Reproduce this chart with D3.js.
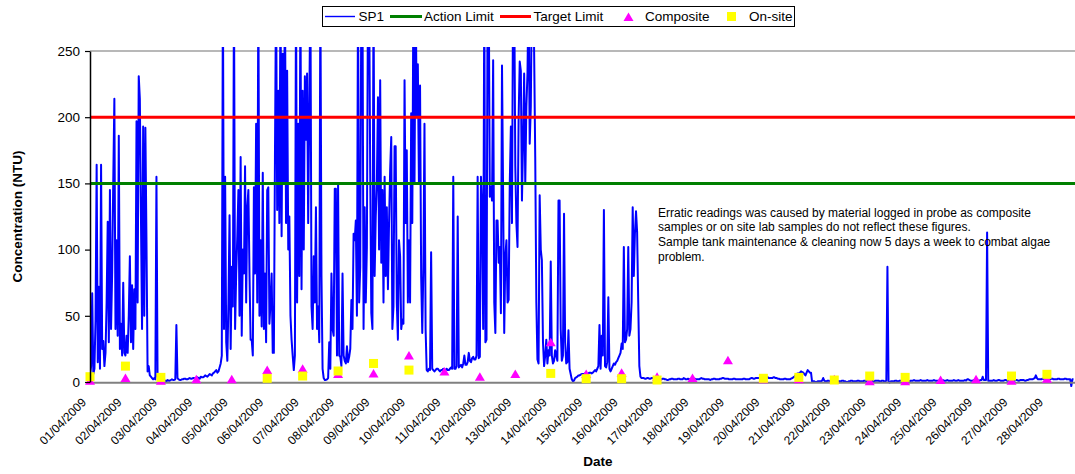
<!DOCTYPE html>
<html>
<head>
<meta charset="utf-8">
<script src="https://cdn.jsdelivr.net/npm/d3@7"></script>
<style>
  body { margin: 0; background: #fff; }
  svg { display: block; font-family: Arial, "Liberation Sans", sans-serif; }
</style>
</head>
<body>
<svg id="chart" width="1075" height="474"></svg>
<script>
// values
var dayLabels = ["01/04/2009", "02/04/2009", "03/04/2009", "04/04/2009", "05/04/2009", "06/04/2009", "07/04/2009",
  "08/04/2009", "09/04/2009", "10/04/2009", "11/04/2009", "12/04/2009", "13/04/2009", "14/04/2009",
  "15/04/2009", "16/04/2009", "17/04/2009", "18/04/2009", "19/04/2009", "20/04/2009", "21/04/2009",
  "22/04/2009", "23/04/2009", "24/04/2009", "25/04/2009", "26/04/2009", "27/04/2009", "28/04/2009"];
var dayIndex = [0, 1, 2, 3, 4, 5, 6, 7, 8, 9, 10, 11, 12, 13, 14, 15, 16, 17, 18, 19, 20, 21, 22, 23, 24, 25, 26, 27];
var yTicks = [0, 50, 100, 150, 200, 250];

// SP1 probe, one reading every 45 minutes (32 per day), one row per day
var sp1StepDays = 1 / 32;
var sp1 = [
  5, 12, 67, 6, 10, 47, 164, 15, 72, 10, 164, 25, 31, 12, 22, 60, 121, 30, 145, 40, 82, 152, 214, 40, 107, 35, 186, 25, 44, 20, 75, 22,
  20, 35, 22, 50, 95, 30, 73, 25, 70, 40, 197, 60, 231, 214, 125, 40, 193, 50, 192, 105, 8, 12, 5, 4, 3, 2, 3, 2, 155, 4, 2, 1.5,
  1, 1.5, 0.5, 1, 1, 0.5, 1.5, 1, 1, 1.5, 2, 1.5, 1.5, 2, 43, 3, 2, 1.5, 1.5, 2, 2, 2.5, 2.5, 2, 2, 2.5, 3, 2.5, 2.5, 3, 3, 2.5,
  3, 3.5, 3, 2.5, 4, 3.5, 3.5, 4, 5, 4.5, 4, 5, 6, 5.5, 5, 6.5, 7, 8, 9, 7, 8, 11, 14, 20, 300, 40, 155, 30, 16, 60, 126, 25,
  87, 57, 300, 40, 82, 110, 145, 50, 170, 35, 100, 82, 163, 60, 132, 145, 82, 32, 32, 20, 147, 82, 195, 60, 300, 50, 107, 42, 158, 40, 82, 30,
  145, 147, 44, 60, 82, 22, 22, 170, 300, 130, 220, 120, 300, 110, 248, 150, 300, 120, 235, 100, 125, 50, 32, 20, 9, 20, 300, 60, 195, 80, 300, 70,
  220, 100, 231, 183, 233, 120, 208, 300, 57, 40, 95, 60, 132, 40, 57, 30, 300, 80, 10, 3, 1.5, 1.5, 2, 3, 30, 10, 82, 40, 35, 146, 146, 20,
  150, 20, 19, 12, 82, 20, 16, 14, 27, 15, 19, 25, 62, 40, 112, 107, 122, 50, 300, 60, 87, 300, 300, 40, 132, 60, 102, 300, 300, 158, 52, 40,
  300, 80, 125, 150, 215, 100, 228, 90, 145, 60, 155, 80, 132, 70, 120, 160, 185, 40, 57, 178, 178, 60, 32, 107, 95, 40, 47, 44, 228, 120, 175, 60,
  107, 60, 203, 120, 300, 150, 300, 200, 240, 150, 224, 80, 37, 87, 195, 40, 9, 8, 10, 9, 98, 10, 9, 8, 9, 10, 10, 9, 8, 9, 9, 10,
  8, 9, 10, 9, 9, 10, 11, 10, 155, 10, 10, 12, 125, 11, 12, 13, 11, 14, 20, 13, 13, 15, 22, 16, 15, 18, 19, 17, 17, 20, 155, 18,
  19, 155, 132, 40, 300, 30, 32, 300, 300, 140, 147, 137, 243, 60, 37, 122, 122, 90, 102, 52, 239, 142, 37, 95, 107, 60, 62, 150, 193, 120, 300, 300,
  163, 120, 102, 200, 242, 235, 137, 180, 233, 150, 208, 233, 300, 180, 208, 300, 300, 250, 170, 60, 17, 14, 141, 100, 92, 30, 12, 20, 32, 14, 24, 20,
  91, 20, 14, 16, 24, 20, 16, 137, 137, 40, 16, 20, 127, 30, 14, 15, 39, 10, 6, 2, 0.5, 1, 3, 3.5, 4, 5, 5, 5.5, 6, 6, 6, 6.5,
  6, 6, 6.5, 7, 7, 6.5, 7, 8, 9, 8, 10, 12, 43, 10, 35, 20, 130, 12, 11, 15, 64, 10, 8, 10, 12, 14, 13, 15, 16, 18, 20, 22,
  29, 25, 102, 30, 32, 40, 102, 35, 40, 60, 132, 80, 112, 129, 113, 60, 12, 4, 3, 3, 3, 2.5, 2.5, 3, 3, 2.5, 2.5, 3, 3, 3, 3, 3,
  3, 2.5, 2.5, 2, 2, 2.5, 2.5, 2, 2, 1.5, 1.5, 2, 2, 2.5, 2.5, 2, 2, 2, 2, 2.5, 2.5, 2, 2, 2, 3, 2.5, 2, 2, 2.5, 2, 2, 2,
  2, 2, 2.5, 2, 2, 2, 2, 2.5, 3, 2.5, 2.5, 2, 2, 2, 2, 2, 1.5, 2, 2, 2.5, 2.5, 2, 2, 2, 2, 2.5, 2.5, 3, 3, 2.5, 2.5, 2.5,
  2.5, 2, 2, 2, 2, 2.5, 2.5, 2, 2, 2, 2, 2, 2, 2, 2.5, 2.5, 2, 2, 2, 2, 2.5, 3, 3, 2.5, 2.5, 3, 3, 3, 3, 3.5, 3.5, 3,
  3, 3, 3, 3.5, 3.5, 3, 3, 3, 3, 3.5, 3.5, 3, 3, 2.5, 2.5, 2, 2, 2, 2, 2.5, 2.5, 2, 2, 2, 2, 2.5, 3, 3.5, 4, 5, 6, 6.5,
  6.5, 7, 8, 7.5, 7, 6, 5, 7, 9, 8, 7, 7, 0, 0.5, 0.5, 0, 0, 0.5, 0.5, 0.5, 0.5, 1, 3, 1, 0.5, 0.5, 1, 1, 0.5, 0.5, 1, 1,
  0.5, 0.5, 1, 0.5, 0.5, 0.5, 0.5, 1, 1, 0.5, 0.5, 0, 0, 0.5, 0.5, 1, 1, 0.5, 0.5, 0.5, 0.5, 1, 1, 0.5, 0.5, 0.5, 0.5, 1, 1, 0.5, 0.5, 0.5,
  0.5, 1, 1, 0.5, 0.5, 1, 1, 1, 1, 0.5, 0.5, 1, 1, 0.5, 0.5, 1, 87, 0, -0.5, 0.5, 0.5, 0.5, 0.5, 1, 1, 0.5, 0.5, 1, 1, 1, 1, 1,
  1, 1, 1, 1, 0.5, 1, 1, 1, 1.5, 1, 1, 1, 1, 1, 1.5, 1, 1, 1, 1, 1, 1.5, 1, 1, 1, 1, 1, 1.5, 1, 1, 1, 1, 1,
  1, 1, 1.5, 1, 1, 1, 1.5, 1, 1, 1, 1, 1, 1.5, 1, 1, 1, 1.5, 1, 1, 1, 1, 1, 1.5, 1, 2, 2, 1.5, 1, 1, 1, 1.5, 1.5,
  1.5, 1.5, 1, 1, 1.5, 1.5, 4, 1.5, 1.5, 1.5, 113, 1, 1, 1, 1, 1, 1.5, 1, 1, 1, 1.5, 1.5, 1, 1, 1, 1, 1.5, 1.5, 1, 1, 1.5, 1.5,
  1.5, 1.5, 1, 1, 1.5, 1.5, 1, 1, 1.5, 1.5, 1.5, 1.5, 1, 1, 1.5, 1.5, 2, 2, 2, 2, 2.5, 3, 5, 3, 2, 2, 2, 2, 2.5, 2.5, 2, 2,
  2, 2, 2, 2, 2.5, 2.5, 2, 2, 2, 2, 2.5, 2.5, 2, 2, 2, 2, 2.5, 2.5, 2, 2, 2, 2, -3, 2, 2
];

var actionLimit = 150;
var targetLimit = 200;

// composite samples, one per day
var compositeDays = [0, 1, 2, 3, 4, 5, 6, 7, 8, 9, 10, 11, 12, 13, 14, 15, 16, 17, 18, 19, 20, 21, 22, 23, 24, 25, 26, 27];
var compositeValues = [1, 3, 1, 2, 2, 9, 10, 6, 6.5, 20, 8, 4, 6, 30, 6, 7, 4, 3, 16.5, 2, 2, 2, 0.5, 0.5, 1.5, 2, 1, 2.5];

// on-site lab samples
var onSiteDays = [0, 1, 2, 5, 6, 7, 8, 9, 13, 14, 15, 16, 19, 20, 21, 22, 23, 26, 27];
var onSiteValues = [4, 12, 3.5, 2.8, 4.5, 8.3, 14, 9, 6.5, 2.5, 2.5, 1.5, 2.8, 3.5, 1.5, 4.5, 3.5, 4.5, 5.8];

var noteLines = [
  "Erratic readings was caused by material logged in probe as composite",
  "samples or on site lab samples do not reflect these figures.",
  "Sample tank maintenance & cleaning now 5 days a week to combat algae",
  "problem."
];

var width = 1075;
var height = 474;
var margin = {top: 51, right: 0, bottom: 92, left: 90};

var svg = d3.select("#chart");

var x = d3.scaleLinear().domain([0, (sp1.length - 1) * sp1StepDays]).range([margin.left, 1073.5]);
var y = d3.scaleLinear().domain([0, 250]).range([height - margin.bottom, margin.top]);

svg.append("clipPath").attr("id", "plotClip")
  .append("rect").attr("x", margin.left).attr("y", margin.top - 4)
  .attr("width", width - margin.left).attr("height", height - margin.top);

// top border of the plot
svg.append("line")
  .attr("x1", margin.left).attr("x2", width)
  .attr("y1", y(250)).attr("y2", y(250))
  .attr("stroke", "#a0a0a0").attr("stroke-width", 1.5);

// SP1 trace
var sp1Line = d3.line()
  .x(function (d, i) { return x(i * sp1StepDays); })
  .y(function (d) { return y(d); });

svg.append("path")
  .datum(sp1)
  .attr("clip-path", "url(#plotClip)")
  .attr("fill", "none")
  .attr("stroke", "#0000ff")
  .attr("stroke-width", 2)
  .attr("stroke-linejoin", "round")
  .attr("d", sp1Line);

// limits
[[actionLimit, "#008000"], [targetLimit, "#ff0000"]].forEach(function (l) {
  svg.append("line")
    .attr("x1", margin.left).attr("x2", width)
    .attr("y1", y(l[0])).attr("y2", y(l[0]))
    .attr("stroke", l[1]).attr("stroke-width", 3);
});

// x axis line
svg.append("line")
  .attr("x1", margin.left).attr("x2", width)
  .attr("y1", y(0) + 0.8).attr("y2", y(0) + 0.8)
  .attr("stroke", "#808080").attr("stroke-width", 2);

// composite triangles
svg.append("g").selectAll("path")
  .data(compositeDays)
  .join("path")
  .attr("transform", function (d, i) { return "translate(" + x(d) + "," + y(compositeValues[i]) + ")"; })
  .attr("d", "M0,-4.5L5,4L-5,4Z")
  .attr("fill", "#ff00ff");

// on-site squares
svg.append("g").selectAll("rect")
  .data(onSiteDays)
  .join("rect")
  .attr("x", function (d) { return x(d) - 4.5; })
  .attr("y", function (d, i) { return y(onSiteValues[i]) - 4.5; })
  .attr("width", 9).attr("height", 9)
  .attr("fill", "#ffff00");

// y axis
var yAxis = svg.append("g")
  .attr("transform", "translate(" + margin.left + ",0)")
  .call(d3.axisLeft(y).tickValues(yTicks).tickSize(5).tickSizeOuter(0).tickPadding(5));
yAxis.select(".domain").attr("stroke", "#000").attr("stroke-width", 1.5);
yAxis.selectAll(".tick line").attr("stroke", "#000").attr("stroke-width", 1.2);
yAxis.selectAll("text").attr("font-size", "13.5px").attr("fill", "#000")
  .attr("font-family", "Arial, 'Liberation Sans', sans-serif");

// x axis labels
var xAxis = svg.append("g")
  .attr("transform", "translate(0," + y(0) + ")")
  .call(d3.axisBottom(x).tickValues(dayIndex).tickSize(0)
    .tickFormat(function (d, i) { return dayLabels[i]; }));
xAxis.select(".domain").remove();
xAxis.selectAll("text")
  .attr("y", 0).attr("dy", 0)
  .attr("text-anchor", "end")
  .attr("transform", "translate(-3.5,21) rotate(-45)")
  .attr("font-size", "12px").attr("fill", "#000")
  .attr("font-family", "Arial, 'Liberation Sans', sans-serif");

// axis titles
svg.append("text")
  .attr("transform", "translate(22," + ((y(0) + y(250)) / 2) + ") rotate(-90)")
  .attr("text-anchor", "middle")
  .attr("font-size", "13.5px").attr("font-weight", "bold")
  .text("Concentration (NTU)");

svg.append("text")
  .attr("x", 598).attr("y", 466)
  .attr("text-anchor", "middle")
  .attr("font-size", "13.5px").attr("font-weight", "bold")
  .text("Date");

// note
svg.append("g").selectAll("text")
  .data(noteLines)
  .join("text")
  .attr("x", 658)
  .attr("y", function (d, i) { return 216.5 + i * 14.8; })
  .attr("font-size", "12px").attr("fill", "#000")
  .text(function (d) { return d; });

// legend
var legend = svg.append("g");
legend.append("rect")
  .attr("x", 322.5).attr("y", 6.5).attr("width", 472).attr("height", 20)
  .attr("fill", "#fff").attr("stroke", "#000").attr("stroke-width", 1);

var ly = 16.5;
legend.append("line").attr("x1", 325).attr("x2", 355).attr("y1", ly).attr("y2", ly)
  .attr("stroke", "#0000ff").attr("stroke-width", 1.4);
legend.append("line").attr("x1", 390).attr("x2", 422).attr("y1", ly).attr("y2", ly)
  .attr("stroke", "#008000").attr("stroke-width", 3);
legend.append("line").attr("x1", 500).attr("x2", 531).attr("y1", ly).attr("y2", ly)
  .attr("stroke", "#ff0000").attr("stroke-width", 3);
legend.append("path").attr("transform", "translate(628.5," + (ly + 0.5) + ")")
  .attr("d", "M0,-4.5L5,4L-5,4Z").attr("fill", "#ff00ff");
legend.append("rect").attr("x", 727).attr("y", ly - 4.5).attr("width", 9).attr("height", 9)
  .attr("fill", "#ffff00");

[["SP1", 358.5], ["Action Limit", 424], ["Target Limit", 533.5], ["Composite", 645], ["On-site", 749]]
  .forEach(function (t) {
    legend.append("text").attr("x", t[1]).attr("y", ly + 4.8)
      .attr("font-size", "13.5px").attr("fill", "#000").text(t[0]);
  });
</script>
</body>
</html>
